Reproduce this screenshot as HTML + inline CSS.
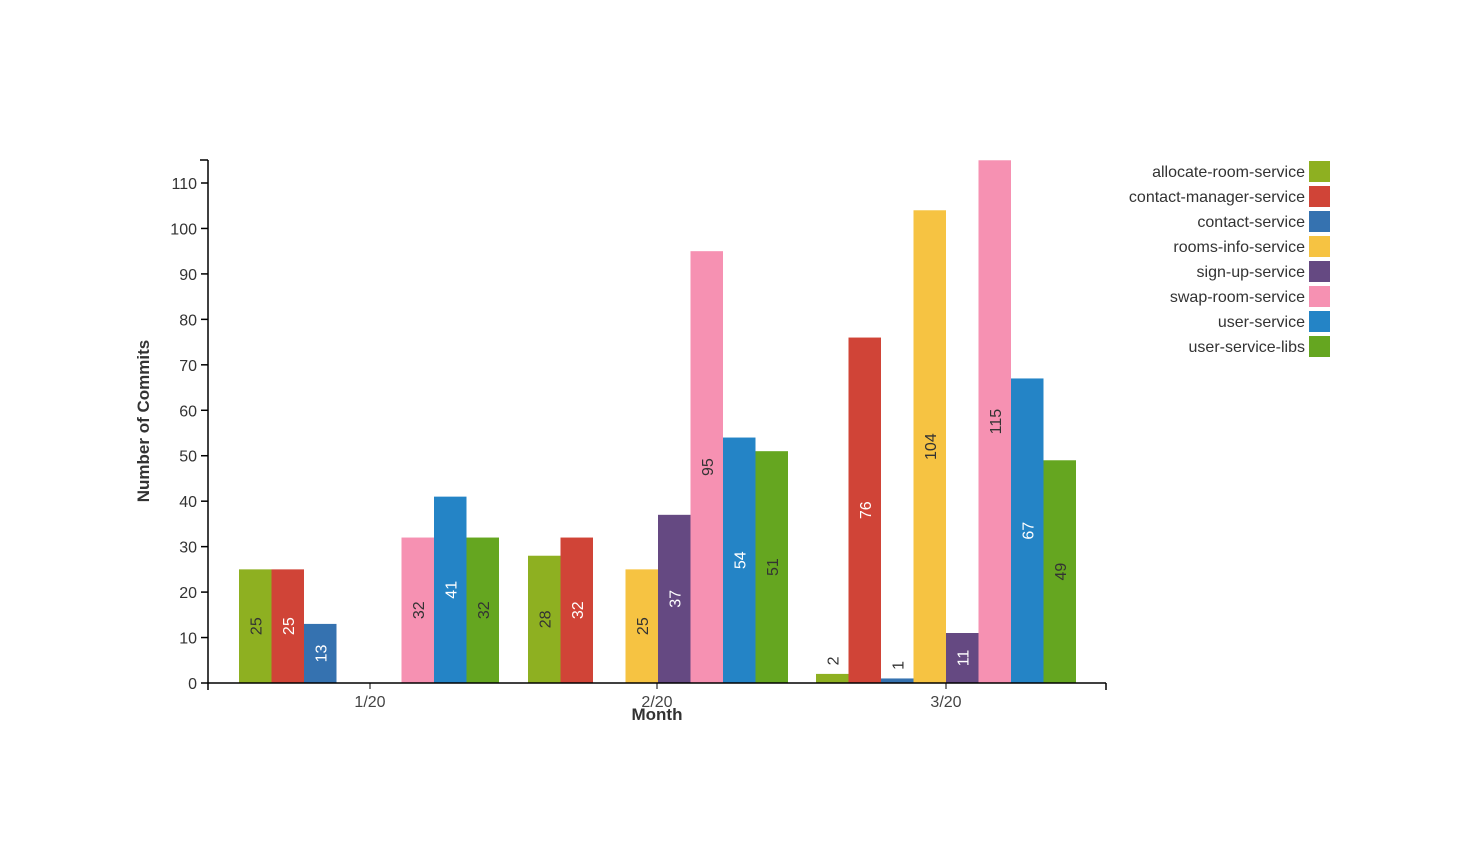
<!DOCTYPE html>
<html><head><meta charset="utf-8"><style>
body{margin:0;background:#fff;}
svg text{font-family:"Liberation Sans",sans-serif;}
</style></head><body>
<svg width="1477" height="863" xmlns="http://www.w3.org/2000/svg">
<g id="bars"></g>
<g font-size="16" fill="#333" text-anchor="end" id="yt"></g>
<line x1="208" y1="160" x2="208" y2="683" stroke="#000" stroke-width="1.5"/>
<line x1="200" y1="160" x2="208" y2="160" stroke="#000" stroke-width="1.5"/>
<line x1="208" y1="683" x2="1106" y2="683" stroke="#000" stroke-width="1.5"/>
<line x1="208" y1="683" x2="208" y2="690" stroke="#000" stroke-width="1.5"/>
<line x1="1106" y1="683" x2="1106" y2="690" stroke="#000" stroke-width="1.5"/>
<g font-size="16" fill="#444" text-anchor="middle">
<line x1="370" y1="683" x2="370" y2="689" stroke="#000"/><text x="370" y="707">1/20</text>
<line x1="657" y1="683" x2="657" y2="689" stroke="#000"/><text x="657" y="707">2/20</text>
<line x1="946" y1="683" x2="946" y2="689" stroke="#000"/><text x="946" y="707">3/20</text>
</g>
<text x="657" y="720" font-size="17" font-weight="bold" fill="#333" text-anchor="middle">Month</text>
<text transform="translate(149,421) rotate(-90)" font-size="17" font-weight="bold" fill="#333" text-anchor="middle">Number of Commits</text>
<g id="leg" font-size="16" fill="#333" text-anchor="end"></g>
</svg>
<script>
var ns="http://www.w3.org/2000/svg";
function el(p,t,a,txt){var e=document.createElementNS(ns,t);for(var k in a)e.setAttribute(k,a[k]);if(txt!==undefined)e.textContent=txt;p.appendChild(e);return e;}
var yt=document.getElementById('yt');
var s=500/110;
for(var v=0;v<=110;v+=10){var y=683-v*s;el(yt,'text',{x:197,y:y+6},String(v));el(yt,'line',{x1:201,y1:y,x2:208,y2:y,stroke:'#000','stroke-width':1.5});}
var names=["allocate-room-service","contact-manager-service","contact-service","rooms-info-service","sign-up-service","swap-room-service","user-service","user-service-libs"];
var cols=["#8eb021","#d04437","#3572b0","#f6c342","#654982","#f691b2","#2484c6","#65a620"];
var dark=[1,0,0,1,0,1,0,1];
var data=[[25,25,13,0,0,32,41,32],[28,32,0,25,37,95,54,51],[2,76,1,104,11,115,67,49]];
var starts=[239,528,816],w=32.5;
var b=document.getElementById('bars');
data.forEach(function(g,gi){g.forEach(function(v,i){if(!v)return;var x=starts[gi]+i*w,h=v*s,y=683-h;
el(b,'rect',{x:x,y:y,width:w,height:h,fill:cols[i]});
var cx=x+w/2,cy,fill;
if(v<5){cy=y-13;fill='#333';}else{cy=y+h/2;fill=dark[i]?'#333':'#fff';}
el(b,'text',{transform:'translate('+(cx+6)+','+cy+') rotate(-90)','font-size':16,fill:fill,'text-anchor':'middle'},String(v));});});
var lg=document.getElementById('leg');
names.forEach(function(n,i){var y=161+i*25;el(lg,'rect',{x:1309,y:y,width:21,height:21,fill:cols[i]});el(lg,'text',{x:1305,y:y+16},n);});
</script>
</body></html>
